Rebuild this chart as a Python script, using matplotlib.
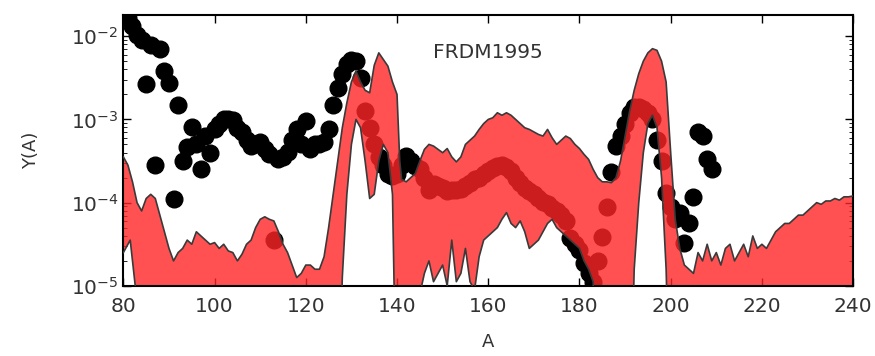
import numpy as np
import matplotlib.pyplot as plt

# solar r-process abundances (black dots), log10 Y(A)
solar_A = np.arange(80, 210)
solar_logY = [-1.72, -1.78, -1.88, -1.98, -2.04, -2.58, -2.10, -3.55, -2.15, -2.42,
              -2.56, -3.96, -2.83, -3.50, -3.33, -3.09, -3.30, -3.60, -3.20, -3.40,
              -3.11, -3.05, -3.00, -3.00, -3.01, -3.10, -3.15, -3.25, -3.32, -3.30,
              -3.27, -3.35, -3.42, -4.45, -3.48, -3.45, -3.39, -3.25, -3.11, -3.30,
              -3.02, -3.35, -3.30, -3.30, -3.27, -3.11, -2.83, -2.62, -2.46, -2.34,
              -2.29, -2.30, -2.50, -2.90, -3.10, -3.30, -3.45, -3.55, -3.65, -3.68,
              -3.65, -3.55, -3.44, -3.50, -3.56, -3.60, -3.70, -3.85, -3.78, -3.80,
              -3.83, -3.86, -3.85, -3.85, -3.84, -3.80, -3.76, -3.72, -3.70, -3.65,
              -3.62, -3.58, -3.56, -3.55, -3.57, -3.62, -3.70, -3.76, -3.82, -3.86,
              -3.90, -3.95, -3.99, -4.02, -4.06, -4.10, -4.15, -4.22, -4.42, -4.50,
              -4.57, -4.72, -4.85, -4.95, -4.70, -4.41, -4.05, -3.63, -3.32, -3.20,
              -3.05, -2.92, -2.85, -2.85, -2.88, -2.92, -3.00, -3.25, -3.50, -3.88,
              -4.05, -4.20, -4.12, -4.48, -4.25, -3.93, -3.15, -3.20, -3.48, -3.60]

# FRDM1995 band: upper edge
upper_A = [80, 81, 82, 83, 84, 85, 86, 87, 88, 89, 90, 91, 92, 93, 94, 95, 96, 97, 98, 99,
           100, 101, 102, 103, 104, 105, 106, 107, 108, 109, 110, 111, 112, 113, 114, 115,
           116, 117, 118, 119, 120, 121, 122, 123, 124, 125, 126, 127, 128, 129, 130, 131,
           132, 133, 134, 135, 136, 137, 138, 139, 140, 140.6, 141, 142, 143, 144, 145, 146,
           147, 148, 149, 150, 151, 152, 153, 154, 155, 156, 157, 158, 159, 160, 161, 162,
           163, 164, 165, 166, 167, 168, 169, 170, 171, 172, 173, 174, 175, 176, 177, 178,
           179, 180, 181, 182, 183, 184, 185, 186, 187, 188, 189, 190, 191, 192, 193, 194,
           195, 196, 197, 198, 199, 200, 201, 202, 203, 204, 205, 206, 207, 208, 209, 210,
           211, 212, 213, 214, 215, 216, 217, 218, 219, 220, 221, 222, 223, 224, 225, 226,
           227, 228, 229, 230, 231, 232, 233, 234, 235, 236, 237, 238, 239, 240]
upper_logY = [-3.45, -3.55, -3.75, -4.00, -4.10, -3.95, -3.90, -3.95, -4.15, -4.35, -4.55,
              -4.70, -4.60, -4.55, -4.45, -4.50, -4.35, -4.40, -4.45, -4.50, -4.48, -4.55,
              -4.50, -4.58, -4.60, -4.70, -4.62, -4.50, -4.45, -4.30, -4.20, -4.17, -4.20,
              -4.22, -4.35, -4.50, -4.60, -4.75, -4.90, -4.85, -4.75, -4.75, -4.80, -4.80,
              -4.65, -4.30, -3.90, -3.50, -3.10, -2.80, -2.55, -2.42, -2.55, -2.65, -2.68,
              -2.35, -2.20, -2.28, -2.36, -2.55, -2.70, -3.50, -3.72, -3.75, -3.70, -3.65,
              -3.50, -3.36, -3.30, -3.32, -3.36, -3.40, -3.35, -3.45, -3.51, -3.45, -3.30,
              -3.25, -3.20, -3.12, -3.05, -3.00, -2.98, -2.92, -2.95, -2.92, -2.95, -3.00,
              -3.05, -3.10, -3.12, -3.15, -3.18, -3.20, -3.12, -3.22, -3.30, -3.25, -3.20,
              -3.23, -3.30, -3.35, -3.42, -3.48, -3.60, -3.70, -3.75, -3.75, -3.76, -3.70,
              -3.50, -3.20, -2.90, -2.65, -2.45, -2.30, -2.20, -2.15, -2.17, -2.30, -2.55,
              -3.40, -4.20, -4.55, -4.75, -4.80, -4.85, -4.60, -4.70, -4.50, -4.70, -4.60,
              -4.75, -4.55, -4.50, -4.70, -4.60, -4.50, -4.65, -4.40, -4.55, -4.50, -4.55,
              -4.45, -4.35, -4.30, -4.25, -4.25, -4.20, -4.15, -4.15, -4.10, -4.05, -4.00,
              -4.02, -3.98, -3.98, -3.95, -3.97, -3.93, -3.93, -3.92]

# FRDM1995 band: lower edge (-7 = off the bottom of the plot)
lower_A = [80, 81.5, 83, 84, 127, 128, 129, 130, 131, 132, 133, 134, 135, 136, 137, 138,
           139, 140, 144.5, 145, 146, 147, 148, 149, 150, 151, 152, 153, 154, 155, 156,
           157, 158, 159, 160, 161, 162, 163, 164, 165, 166, 167, 168, 169, 170, 171, 172,
           173, 174, 175, 176, 177, 178, 179, 180, 181, 182, 183, 184, 191, 192, 193, 194,
           195, 196, 197, 198, 199, 200, 240]
lower_logY = [-4.6, -4.45, -5.2, -7, -7, -4.9, -3.9, -3.3, -3.0, -3.1, -3.5, -3.95, -3.9,
              -3.5, -3.3, -3.4, -3.9, -7, -7, -5.1, -4.85, -4.7, -4.95, -4.85, -4.75, -5.0,
              -4.45, -4.95, -4.85, -4.55, -4.95, -5.05, -4.65, -4.45, -4.4, -4.35, -4.3,
              -4.2, -4.12, -4.25, -4.3, -4.22, -4.35, -4.55, -4.5, -4.45, -4.35, -4.25,
              -4.2, -4.3, -4.35, -4.4, -4.45, -4.5, -4.55, -4.7, -4.8, -4.95, -7, -7, -4.8,
              -4.0, -3.4, -3.05, -2.95, -3.1, -3.7, -4.8, -7, -7]

solar_Y = 10.0 ** np.array(solar_logY)
upper_Y = 10.0 ** np.array(upper_logY)
lower_Y = 10.0 ** np.array(lower_logY)

plt.rcParams['font.size'] = 14.5
fig = plt.figure(figsize=(8.75, 3.56), dpi=100)
ax = fig.add_axes([0.141, 0.197, 0.834, 0.761])

ax.plot(solar_A, solar_Y, 'o', color='k', ms=12, mec='k', zorder=1)

poly_A = np.concatenate([upper_A, lower_A[::-1]])
poly_Y = np.concatenate([upper_Y, lower_Y[::-1]])
ax.fill(poly_A, poly_Y, color='#ff2525', alpha=0.8, lw=0, zorder=2)
ax.plot(upper_A, upper_Y, color='#3a3a3a', lw=1.2, zorder=3)
ax.plot(lower_A, lower_Y, color='#3a3a3a', lw=1.2, zorder=3)

ax.set_yscale('log')
ax.set_xlim(80, 240)
ax.set_ylim(1e-5, 1.8e-2)
ax.set_xticks(np.arange(80, 241, 20))
ax.tick_params(direction='in', which='both', top=True, right=True, labelcolor='#333333')
ax.tick_params(which='major', length=6, width=1)
ax.tick_params(which='minor', length=3)
ax.tick_params(axis='x', pad=8)
for s in ax.spines.values():
    s.set_linewidth(1.5)

ax.set_xlabel('A', labelpad=12, color='#333333', fontsize=13)
ax.set_ylabel('Y(A)', labelpad=22, color='#333333', fontsize=13)
ax.text(0.5, 0.86, 'FRDM1995', transform=ax.transAxes, ha='center', va='center',
        color='#333333')

fig.savefig('out.png', dpi=100)
